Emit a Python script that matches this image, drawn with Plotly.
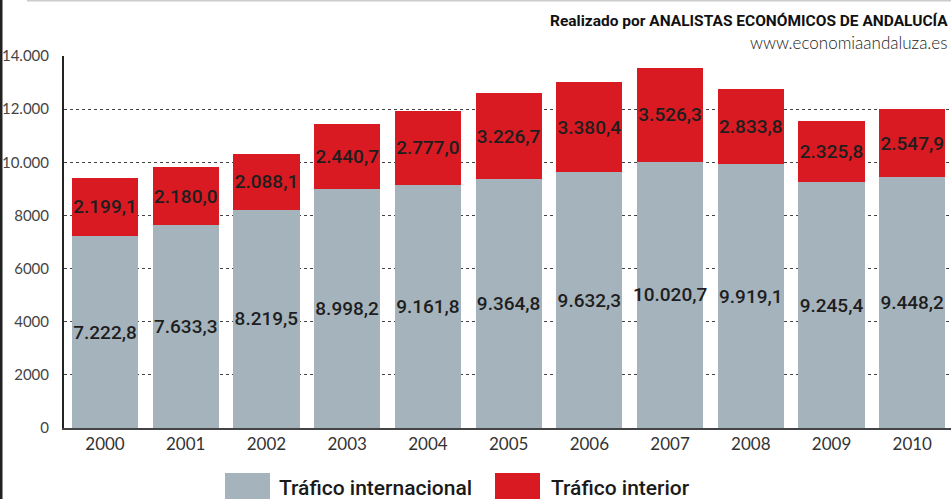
import plotly.graph_objects as go

years = ["2000", "2001", "2002", "2003", "2004", "2005", "2006", "2007", "2008", "2009", "2010"]
internacional = [7222.8, 7633.3, 8219.5, 8998.2, 9161.8, 9364.8, 9632.3, 10020.7, 9919.1, 9245.4, 9448.2]
interior = [2199.1, 2180.0, 2088.1, 2440.7, 2777.0, 3226.7, 3380.4, 3526.3, 2833.8, 2325.8, 2547.9]
y_ticks = [0, 2000, 4000, 6000, 8000, 10000, 12000, 14000]
y_tick_labels = ["0", "2000", "4000", "6000", "8000", "10.000", "12.000", "14.000"]
series_names = ["Tráfico internacional", "Tráfico interior"]

GRAY = "#A5B3BD"
RED = "#DA1A22"
LABEL_FONT = dict(family="Roboto, sans-serif", size=19, color="#1e1e1e", weight=500)

W, H = 951, 499
L, R, T, B = 64, 0, 56, 71
pw, ph = W - L - R, H - T - B

def px(x):
    return (x - L) / pw

def py(y):
    return (H - B - y) / ph

fig = go.Figure()
fig.add_trace(go.Bar(x=years, y=internacional, name=series_names[0], marker_color=GRAY,
                     marker_line_width=0, texttemplate="%{y:,.1f}", textposition="inside",
                     insidetextanchor="middle", insidetextfont=LABEL_FONT, constraintext="none",
                     textangle=0, showlegend=False))
fig.add_trace(go.Bar(x=years, y=interior, name=series_names[1], marker_color=RED,
                     marker_line_width=0, texttemplate="%{y:,.1f}", textposition="inside",
                     insidetextanchor="middle", insidetextfont=LABEL_FONT, constraintext="none",
                     textangle=0, showlegend=False))

fig.update_layout(
    barmode="stack", bargap=0.18,
    width=W, height=H,
    margin=dict(l=L, r=R, t=T, b=B, pad=0),
    plot_bgcolor="white", paper_bgcolor="white",
    separators=",.",
    showlegend=False,
    xaxis=dict(range=[-0.508, 10.48], showgrid=False, showline=True, linecolor="#444", linewidth=2,
               ticks="", tickfont=dict(family="Lato, Open Sans, sans-serif", size=17, color="#333"),
               fixedrange=True, automargin=False),
    yaxis=dict(range=[0, 14000], tickvals=y_ticks, ticktext=y_tick_labels, showgrid=True,
               gridcolor="#444", griddash="dot", gridwidth=1, showline=True, linecolor="#222",
               linewidth=2, ticks="", zeroline=False,
               tickfont=dict(family="Lato, Open Sans, sans-serif", size=15, color="#444"),
               ticklabelstandoff=10, fixedrange=True, automargin=False),
)

# legend drawn manually (large swatches)
fig.add_shape(type="rect", xref="paper", yref="paper", x0=px(225), x1=px(270), y0=py(473), y1=py(505),
              fillcolor=GRAY, line_width=0)
fig.add_shape(type="rect", xref="paper", yref="paper", x0=px(495), x1=px(540), y0=py(473), y1=py(505),
              fillcolor=RED, line_width=0)
LEG_FONT = dict(family="Roboto, Lato, sans-serif", size=21, color="#1a1a1a", weight=500)
fig.add_annotation(xref="paper", yref="paper", x=px(277), y=py(488), text=series_names[0],
                   showarrow=False, xanchor="left", yanchor="middle", font=LEG_FONT)
fig.add_annotation(xref="paper", yref="paper", x=px(549), y=py(488), text=series_names[1],
                   showarrow=False, xanchor="left", yanchor="middle", font=LEG_FONT)

# header texts
fig.add_annotation(xref="paper", yref="paper", x=px(950), y=py(21),
                   text="<b>Realizado por ANALISTAS ECONÓMICOS DE ANDALUCÍA</b>",
                   showarrow=False, xanchor="right", yanchor="middle",
                   font=dict(family="Roboto, sans-serif", size=15.5, color="#111"))
fig.add_annotation(xref="paper", yref="paper", x=px(949), y=py(42),
                   text="www.economiaandaluza.es",
                   showarrow=False, xanchor="right", yanchor="middle",
                   font=dict(family="Lato, Open Sans, sans-serif", size=17, color="#222", weight=300))

# frame lines
fig.add_shape(type="line", xref="paper", yref="paper", x0=px(1), x1=px(1), y0=py(0), y1=py(499),
              line=dict(color="#222", width=3))
fig.add_shape(type="line", xref="paper", yref="paper", x0=px(27), x1=px(951), y0=py(0.5), y1=py(0.5),
              line=dict(color="#ccc", width=2))

fig.write_html("out.html", config={"displayModeBar": False},
               post_script="document.body.style.margin='0';document.body.style.overflow='hidden';")
